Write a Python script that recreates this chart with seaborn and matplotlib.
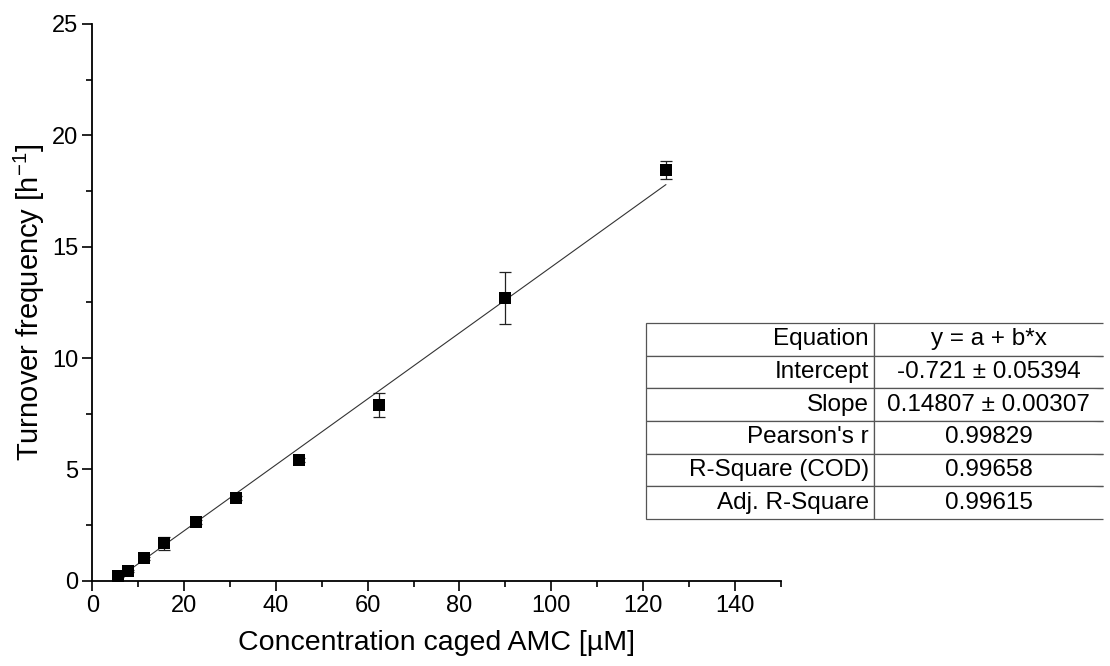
import matplotlib
matplotlib.use("Agg")
import matplotlib.pyplot as plt
from matplotlib.ticker import MultipleLocator
import numpy as np
import pandas as pd
import seaborn as sns

# Measured turnover frequencies vs. substrate concentration
concentration = [5.6, 7.8, 11.25, 15.6, 22.5, 31.25, 45.0, 62.5, 90.0, 125.0]
turnover = [0.21, 0.44, 1.00, 1.67, 2.64, 3.71, 5.42, 7.90, 12.70, 18.45]
turnover_err = [0.05, 0.05, 0.05, 0.30, 0.08, 0.08, 0.08, 0.54, 1.16, 0.40]

# Linear fit parameters
intercept = -0.721
slope = 0.14807

table_labels = ["Equation", "Intercept", "Slope", "Pearson's r",
                "R-Square (COD)", "Adj. R-Square"]
table_values = ["y = a + b*x", "-0.721 \u00b1 0.05394", "0.14807 \u00b1 0.00307",
                "0.99829", "0.99658", "0.99615"]

sns.set_style("ticks")
plt.rcParams["font.family"] = ["Liberation Sans", "DejaVu Sans"]
plt.rcParams["mathtext.fontset"] = "custom"
plt.rcParams["mathtext.rm"] = "Liberation Sans"
plt.rcParams["mathtext.it"] = "Liberation Sans:italic"
plt.rcParams["text.color"] = "black"
plt.rcParams["axes.labelcolor"] = "black"
plt.rcParams["xtick.color"] = "black"
plt.rcParams["ytick.color"] = "black"

df = pd.DataFrame({"conc": concentration, "tof": turnover, "err": turnover_err})
x_fit = np.array([min(concentration), max(concentration)])
fit_df = pd.DataFrame({"conc": x_fit, "tof": intercept + slope * x_fit})

fig = plt.figure(figsize=(11.1, 6.66), dpi=100)
ax = fig.add_axes([0.0832, 0.1281, 0.7033 - 0.0832, 0.964 - 0.1281])

sns.lineplot(data=fit_df, x="conc", y="tof", ax=ax, color="#333333",
             linewidth=0.8, zorder=2)
ax.errorbar(df["conc"], df["tof"], yerr=df["err"], fmt="none",
            ecolor="#222222", elinewidth=0.9, capsize=4, capthick=0.9, zorder=3)
sns.scatterplot(data=df, x="conc", y="tof", ax=ax, marker="s", s=85,
                color="black", edgecolor="black", linewidth=0, zorder=4)

ax.set_xlim(0, 150)
ax.set_ylim(0, 25)
ax.set_xticks(np.arange(0, 141, 20))
ax.xaxis.set_minor_locator(MultipleLocator(10))
ax.yaxis.set_major_locator(MultipleLocator(5))
ax.yaxis.set_minor_locator(MultipleLocator(2.5))
ax.tick_params(which="major", direction="out", length=7, width=1.2,
               labelsize=17, labelcolor="black", color="black", pad=3)
ax.tick_params(which="minor", direction="out", length=4, width=1.2, color="black")
for s in ["left", "bottom"]:
    ax.spines[s].set_linewidth(1.3)
    ax.spines[s].set_color("black")
sns.despine(ax=ax)

ax.set_xlabel("Concentration caged AMC [\u00b5M]", fontsize=20.5, labelpad=10,
              color="black")
ax.set_ylabel("Turnover frequency [h$^{-1}$]", fontsize=21, labelpad=4,
              color="black")

# Fit statistics table
tax = fig.add_axes([0.5817, 0.2207, 0.9937 - 0.5817, 0.515 - 0.2207])
tax.axis("off")
cells = [[l, v] for l, v in zip(table_labels, table_values)]
tbl = tax.table(cellText=cells, bbox=[0, 0, 1, 1], cellLoc="center",
                edges="closed")
tbl.auto_set_font_size(False)
for (r, c), cell in tbl.get_celld().items():
    cell.set_edgecolor("#555555")
    cell.set_linewidth(0.9)
    cell.get_text().set_fontsize(17.5)
    cell.get_text().set_color("black")
    if c == 0:
        cell.get_text().set_horizontalalignment("right")
        cell.PAD = 0.025
    else:
        cell.visible_edges = "BTL"

fig.savefig("out.png", dpi=100)
